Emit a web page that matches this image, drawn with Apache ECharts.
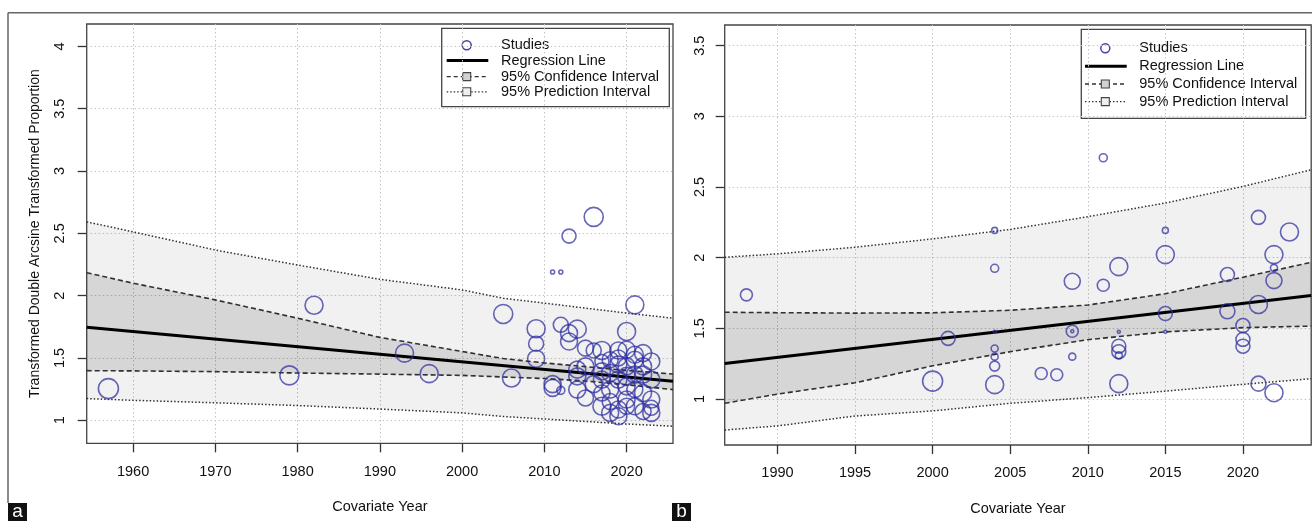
<!DOCTYPE html>
<html><head><meta charset="utf-8">
<script src="https://cdn.jsdelivr.net/npm/echarts@6/dist/echarts.min.js"></script>
<style>html,body{margin:0;padding:0;background:#fff}#c{width:1312px;height:521px}</style>
</head><body><div id="c"></div>
<script>
// ---------- tick labels ----------
const leftXTicks = [1960, 1970, 1980, 1990, 2000, 2010, 2020];
const leftYTicks = [1, 1.5, 2, 2.5, 3, 3.5, 4];
const rightXTicks = [1990, 1995, 2000, 2005, 2010, 2015, 2020];
const rightYTicks = [1, 1.5, 2, 2.5, 3, 3.5];

// ---------- panel a : studies ----------
const leftYears = [1957,1979,1982,1993,1996,2005,2006,2009,2009,2009,2011,2011,2011,2012,2012,2012,2013,2013,2013,2014,2014,2014,2014,2015,2015,2015,2016,2017,2017,2017,2017,2017,2017,2018,2018,2018,2018,2019,2019,2019,2019,2019,2019,2020,2020,2020,2020,2020,2020,2020,2021,2021,2021,2021,2021,2021,2022,2022,2022,2022,2023,2023,2023,2023,2023,2022,2018,2016,2016];
const leftValues = [1.254,1.36,1.923,1.539,1.374,1.853,1.339,1.734,1.614,1.494,1.29,1.26,2.19,2.19,1.24,1.766,1.699,1.632,2.478,1.731,1.406,1.352,1.246,1.179,1.579,1.432,2.632,1.56,1.472,1.326,1.219,1.112,1.392,1.059,1.246,1.379,1.486,1.032,1.56,1.326,1.5,1.086,1.446,1.712,1.432,1.352,1.566,1.272,1.166,1.112,1.926,1.486,1.112,1.246,1.366,1.526,1.432,1.219,1.539,1.366,1.472,1.326,1.166,1.059,1.1,1.07,1.15,1.29,1.56];
const leftWeights = [20,19,18,18,18,19,18,18,15,17,17,17,4,4,8,15,17,17,14,18,17,17,17,16,16,17,19,18,14,17,16,18,17,17,17,17,16,17,17,17,16,17,17,18,17,18,17,17,17,16,18,17,17,16,17,17,17,17,17,17,17,17,17,17,15,16,16,17,15];

// ---------- panel a : fitted curves ----------
const leftFitYears = [1954.36, 2025.64];
const leftFit = [1.747, 1.313];
const leftCurveYears = [1954.36, 1960, 1970, 1980, 1990, 2000, 2005, 2010, 2015, 2020, 2025.64];
const leftCIUpper = [2.184, 2.10, 1.966, 1.819, 1.665, 1.552, 1.495, 1.46, 1.43, 1.40, 1.371];
const leftCILower = [1.398, 1.396, 1.39, 1.379, 1.37, 1.36, 1.347, 1.335, 1.315, 1.285, 1.246];
const leftPIUpper = [2.592, 2.512, 2.366, 2.246, 2.131, 2.046, 1.979, 1.94, 1.90, 1.86, 1.819];
const leftPILower = [1.174, 1.16, 1.14, 1.118, 1.09, 1.059, 1.03, 1.01, 0.99, 0.97, 0.952];

// ---------- panel b : studies ----------
const rightYears = [1988,2000,2001,2004,2004,2004,2004,2004,2004,2004,2007,2008,2009,2009,2009,2009,2011,2011,2012,2012,2012,2012,2012,2012,2015,2015,2015,2015,2019,2019,2020,2020,2020,2021,2021,2021,2022,2022,2022,2022,2023];
const rightValues = [1.737,1.127,1.429,2.193,1.925,1.476,1.358,1.30,1.233,1.102,1.181,1.172,1.833,1.48,1.48,1.30,2.707,1.805,1.937,1.476,1.374,1.335,1.309,1.109,2.193,2.022,1.605,1.476,1.881,1.621,1.52,1.422,1.374,2.285,1.669,1.109,2.022,1.928,1.838,1.045,2.182];
const rightWeights = [12,20,14,6,8,3,7,7,10,18,12,12,16,12,3,7,8,12,18,3,14,14,7,18,6,18,14,3,14,15,14,14,14,14,18,15,18,7,16,18,18];

// ---------- panel b : fitted curves ----------
const rightFitYears = [1986.6, 2024.4];
const rightFit = [1.252, 1.732];
const rightCurveYears = [1986.6, 1990, 1995, 2000, 2005, 2010, 2015, 2020, 2024.4];
const rightCIUpper = [1.614, 1.611, 1.608, 1.610, 1.628, 1.665, 1.745, 1.862, 1.967];
const rightCILower = [0.97, 1.035, 1.115, 1.235, 1.335, 1.42, 1.475, 1.505, 1.516];
const rightPIUpper = [2.003, 2.027, 2.074, 2.133, 2.20, 2.29, 2.387, 2.504, 2.622];
const rightPILower = [0.781, 0.81, 0.88, 0.916, 0.97, 1.01, 1.056, 1.104, 1.144];

const legendLabels = ['Studies', 'Regression Line', '95% Confidence Interval', '95% Prediction Interval'];

const FONT = '"Liberation Sans", Arial, Helvetica, sans-serif';
const BLUE = 'rgba(45,45,160,0.9)';
const LINE = '#303030';
const PI_FILL = 'rgba(0,0,0,0.055)';
const CI_FILL = 'rgba(0,0,0,0.11)';

function xAxisCfg(idx, min, max, ticks, margin) {
  return {
    type: 'value', gridIndex: idx, min, max,
    name: 'Covariate Year', nameLocation: 'middle', nameGap: 56,
    nameTextStyle: { fontFamily: FONT, fontSize: 14.5, color: '#111' },
    axisLine: { show: false },
    axisTick: { show: true, length: 9, customValues: ticks, lineStyle: { color: '#333', width: 1.3 } },
    axisLabel: { customValues: ticks, margin, fontFamily: FONT, fontSize: 14.5, color: '#111', formatter: v => String(v) },
    splitLine: { show: true, lineStyle: { type: [1.5, 2.5], color: '#c4c4c4', width: 1 } }
  };
}
function yAxisCfg(idx, min, max, ticks, margin, name) {
  const a = {
    type: 'value', gridIndex: idx, min, max,
    axisLine: { show: false },
    axisTick: { show: true, length: 9, customValues: ticks, lineStyle: { color: '#333', width: 1.3 } },
    axisLabel: { customValues: ticks, margin, rotate: 90, fontFamily: FONT, fontSize: 14.5, color: '#111', formatter: v => String(v) },
    splitLine: { show: true, lineStyle: { type: [1.5, 2.5], color: '#c4c4c4', width: 1 } }
  };
  if (name) {
    a.name = name; a.nameLocation = 'middle'; a.nameGap = 45; a.nameRotate = 90;
    a.nameTextStyle = { fontFamily: FONT, fontSize: 14, color: '#111' };
  }
  return a;
}
function band(idx, years, upper, lower, fill) {
  return {
    type: 'custom', xAxisIndex: idx, yAxisIndex: idx, silent: true, clip: true, z: 1,
    data: [[years[0], upper[0]]],
    renderItem: (params, api) => {
      const pts = years.map((y, i) => api.coord([y, upper[i]]));
      for (let i = years.length - 1; i >= 0; i--) pts.push(api.coord([years[i], lower[i]]));
      return { type: 'polygon', shape: { points: pts }, style: { fill } };
    }
  };
}
function curve(idx, years, vals, style, z) {
  return {
    type: 'line', xAxisIndex: idx, yAxisIndex: idx, silent: true, showSymbol: false, z: z || 3,
    data: years.map((y, i) => [y, vals[i]]), lineStyle: style, clip: true
  };
}
function pts(idx, years, vals, w) {
  return {
    type: 'scatter', xAxisIndex: idx, yAxisIndex: idx, z: 4, symbol: 'circle',
    symbolSize: v => v[2],
    data: years.map((y, i) => [y, vals[i], w[i]]),
    itemStyle: { color: 'rgba(0,0,0,0)', borderColor: BLUE, borderWidth: 1.6 }
  };
}
function legend(x, y, w, h, rows, symX, lx0, lx1, tx) {
  const els = [
    { type: 'rect', shape: { x, y, width: w, height: h }, style: { fill: '#fff', stroke: '#444', lineWidth: 1.3 } },
    { type: 'circle', shape: { cx: symX, cy: rows[0], r: 4.5 }, style: { fill: 'none', stroke: BLUE, lineWidth: 1.5 } },
    { type: 'line', shape: { x1: lx0, y1: rows[1], x2: lx1, y2: rows[1] }, style: { stroke: '#000', lineWidth: 3 } },
    { type: 'line', shape: { x1: lx0, y1: rows[2], x2: lx1, y2: rows[2] }, style: { stroke: LINE, lineWidth: 1.3, lineDash: [4, 3] } },
    { type: 'rect', shape: { x: symX - 4, y: rows[2] - 4, width: 8, height: 8 }, style: { fill: '#d2d2d2', stroke: '#444', lineWidth: 1.1 } },
    { type: 'line', shape: { x1: lx0, y1: rows[3], x2: lx1, y2: rows[3] }, style: { stroke: LINE, lineWidth: 1.3, lineDash: [1.5, 2] } },
    { type: 'rect', shape: { x: symX - 4, y: rows[3] - 4, width: 8, height: 8 }, style: { fill: '#efefef', stroke: '#444', lineWidth: 1.1 } }
  ];
  legendLabels.forEach((t, i) => els.push({
    type: 'text', style: { text: t, x: tx, y: rows[i], fill: '#111', fontSize: 14.5, fontFamily: FONT, verticalAlign: 'middle', align: 'left' }
  }));
  return { type: 'group', z: 100, children: els };
}

const chart = echarts.init(document.getElementById('c'), null, { renderer: 'canvas' });
const ciStyle = { color: LINE, width: 1.6, type: [5, 3] };
const piStyle = { color: LINE, width: 1.5, type: [1.5, 2] };
const fitStyle = { color: '#000', width: 3 };

chart.setOption({
  animation: false,
  backgroundColor: '#fff',
  grid: [
    { left: 86.7, top: 24, width: 586.3, height: 419.3, show: true, borderColor: '#444', borderWidth: 1.3, backgroundColor: 'transparent' },
    { left: 724.7, top: 25, width: 586.5, height: 420.7, show: true, borderColor: '#444', borderWidth: 1.3, backgroundColor: 'transparent' }
  ],
  xAxis: [
    xAxisCfg(0, 1954.36, 2025.64, leftXTicks, 21),
    xAxisCfg(1, 1986.6, 2024.4, rightXTicks, 20)
  ],
  yAxis: [
    yAxisCfg(0, 0.815, 4.18, leftYTicks, 19, 'Transformed Double Arcsine Transformed Proportion'),
    yAxisCfg(1, 0.675, 3.646, rightYTicks, 17, null)
  ],
  series: [
    band(0, leftCurveYears, leftPIUpper, leftPILower, PI_FILL),
    band(0, leftCurveYears, leftCIUpper, leftCILower, CI_FILL),
    curve(0, leftCurveYears, leftPIUpper, piStyle),
    curve(0, leftCurveYears, leftPILower, piStyle),
    curve(0, leftCurveYears, leftCIUpper, ciStyle),
    curve(0, leftCurveYears, leftCILower, ciStyle),
    curve(0, leftFitYears, leftFit, fitStyle, 3),
    pts(0, leftYears, leftValues, leftWeights),
    band(1, rightCurveYears, rightPIUpper, rightPILower, PI_FILL),
    band(1, rightCurveYears, rightCIUpper, rightCILower, CI_FILL),
    curve(1, rightCurveYears, rightPIUpper, piStyle),
    curve(1, rightCurveYears, rightPILower, piStyle),
    curve(1, rightCurveYears, rightCIUpper, ciStyle),
    curve(1, rightCurveYears, rightCILower, ciStyle),
    curve(1, rightFitYears, rightFit, fitStyle, 3),
    pts(1, rightYears, rightValues, rightWeights)
  ],
  graphic: [
    { type: 'line', shape: { x1: 8, y1: 12.7, x2: 1312, y2: 12.7 }, style: { stroke: '#666', lineWidth: 1.5 } },
    { type: 'line', shape: { x1: 8, y1: 12.7, x2: 8, y2: 503 }, style: { stroke: '#666', lineWidth: 1.5 } },
    legend(441.7, 28.3, 227.6, 78.4, [45.2, 60.6, 76.6, 91.8], 466.7, 446.7, 488.3, 501),
    legend(1081.3, 29.3, 224.4, 89, [48.3, 66.2, 84, 101.6], 1105.3, 1085, 1126.7, 1139.3),
    { type: 'rect', shape: { x: 8, y: 503, width: 19, height: 18 }, style: { fill: '#111' } },
    { type: 'text', style: { text: 'a', x: 17.5, y: 511.5, fill: '#fff', fontSize: 19, fontFamily: FONT, align: 'center', verticalAlign: 'middle' } },
    { type: 'rect', shape: { x: 672, y: 503, width: 19, height: 18 }, style: { fill: '#111' } },
    { type: 'text', style: { text: 'b', x: 681.5, y: 511.5, fill: '#fff', fontSize: 19, fontFamily: FONT, align: 'center', verticalAlign: 'middle' } }
  ]
});
</script>
</body></html>
